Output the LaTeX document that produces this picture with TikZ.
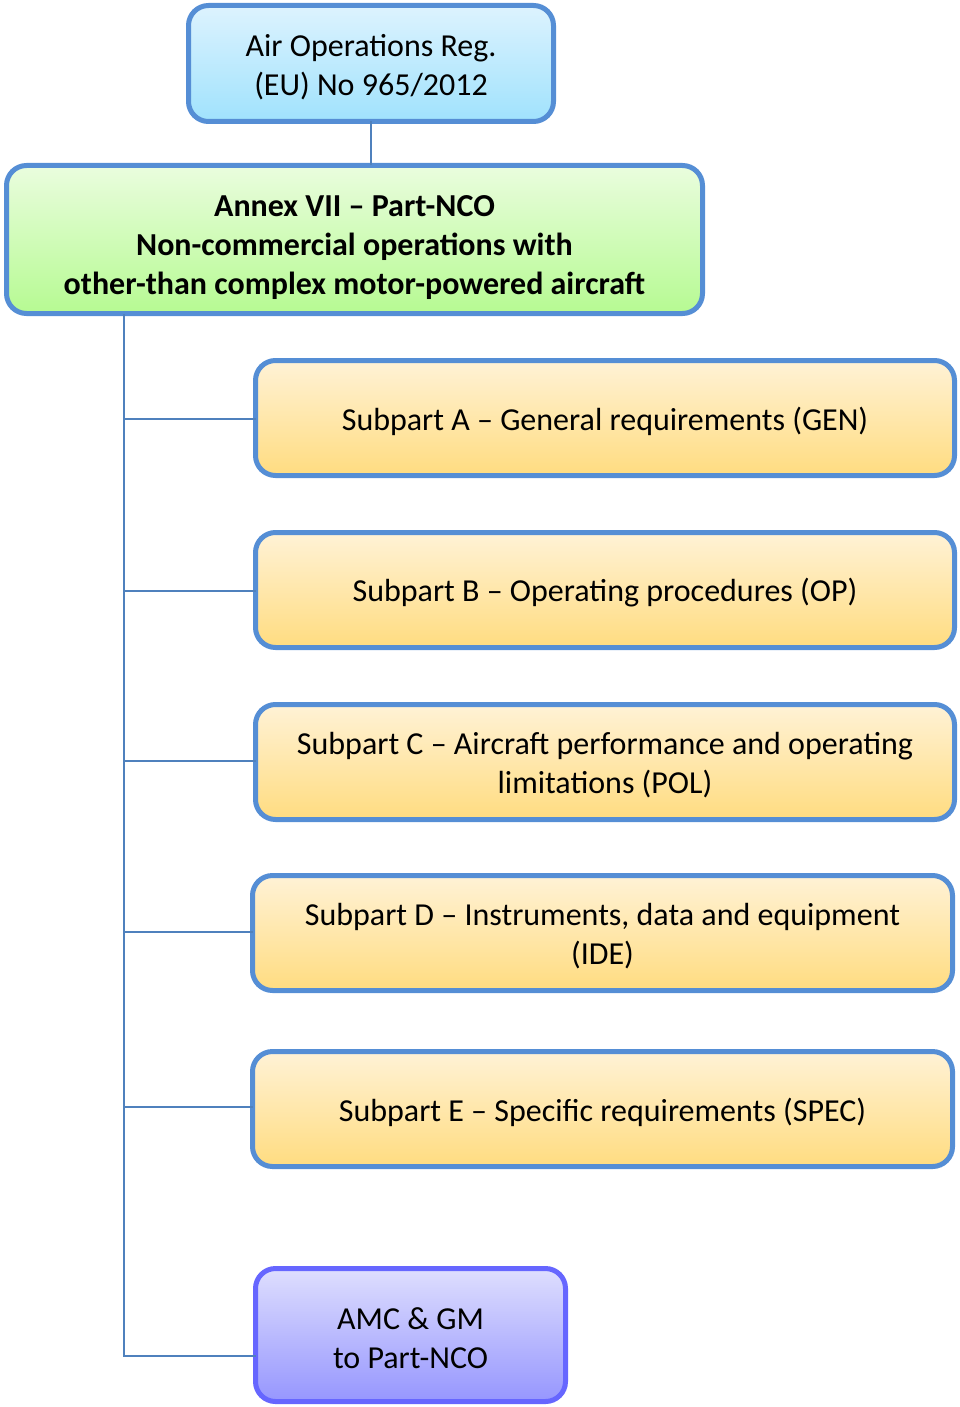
\documentclass[tikz,border=0pt]{standalone}
\usepackage{fontspec}
\setmainfont{Carlito}
\newcommand\lowr[1]{\rule{0pt}{\dimexpr\fontcharht\font`\(+#1\relax}}
\definecolor{bordblue}{RGB}{85,142,213}
\definecolor{linblue}{RGB}{79,129,189}
\definecolor{topA}{RGB}{221,243,254}
\definecolor{botA}{RGB}{160,226,253}
\definecolor{topG}{RGB}{234,253,222}
\definecolor{botG}{RGB}{182,250,146}
\definecolor{topO}{RGB}{255,242,214}
\definecolor{botO}{RGB}{255,220,128}
\definecolor{topP}{RGB}{222,222,254}
\definecolor{botP}{RGB}{150,150,254}
\definecolor{bordP}{RGB}{102,102,255}
\begin{document}
\begin{tikzpicture}[x=1pt,y=-1pt,
  box/.style={rounded corners=20pt, line width=5pt, draw=bordblue, inner sep=0pt, outer sep=0pt,
    align=center, font=\fontsize{32}{39}\selectfont, anchor=north west},
  boxA/.style={box, top color=topA, bottom color=botA},
  boxG/.style={box, top color=topG, bottom color=botG, font=\fontsize{32}{39}\selectfont\bfseries},
  boxO/.style={box, top color=topO, bottom color=botO},
  boxP/.style={box, top color=topP, bottom color=botP, draw=bordP},
  conn/.style={draw=linblue, line width=2.5pt}]
\useasboundingbox (0,0) rectangle (959,1407);
\node[boxA, minimum width=365pt, minimum height=116pt] (reg) at (188.5,5.5)
  {\lowr{6pt}Air Operations Reg.\\(EU) No 965/2012};
\node[boxG, minimum width=696pt, minimum height=148pt] (nco) at (6.5,165.5)
  {\lowr{14pt}Annex VII -- Part-NCO\\Non-commercial operations with\\other-than complex motor-powered aircraft};
\node[boxO, minimum width=699pt, minimum height=115pt] (sa) at (255.5,360.5)
  {\lowr{6pt}Subpart A -- General requirements (GEN)};
\node[boxO, minimum width=699pt, minimum height=115pt] (sb) at (255.5,532.5)
  {\lowr{6pt}Subpart B -- Operating procedures (OP)};
\node[boxO, minimum width=699pt, minimum height=115pt] (sc) at (255.5,704.5)
  {\lowr{6pt}Subpart C -- Aircraft performance and operating\\limitations (POL)};
\node[boxO, minimum width=700pt, minimum height=115pt] (sd) at (252.5,875.5)
  {\lowr{6pt}Subpart D -- Instruments, data and equipment\\(IDE)};
\node[boxO, minimum width=700pt, minimum height=115pt] (se) at (252.5,1051.5)
  {\lowr{6pt}Subpart E -- Specific requirements (SPEC)};
\node[boxP, minimum width=310pt, minimum height=133pt] (amc) at (255.5,1268.5)
  {\lowr{4pt}AMC \& GM\\to Part-NCO};
\coordinate (trunk) at (124,316);
\coordinate (bend) at (124,1356);
\draw[conn] (reg.south) -- (nco.north -| reg.south);
\draw[conn] (nco.south -| trunk) -- (bend) -- (bend -| amc.west);
\foreach \n/\y in {sa/419, sb/591, sc/761, sd/932, se/1107}
  \draw[conn] (124,\y) -- (\n.west |- 124,\y);
\end{tikzpicture}
\end{document}
